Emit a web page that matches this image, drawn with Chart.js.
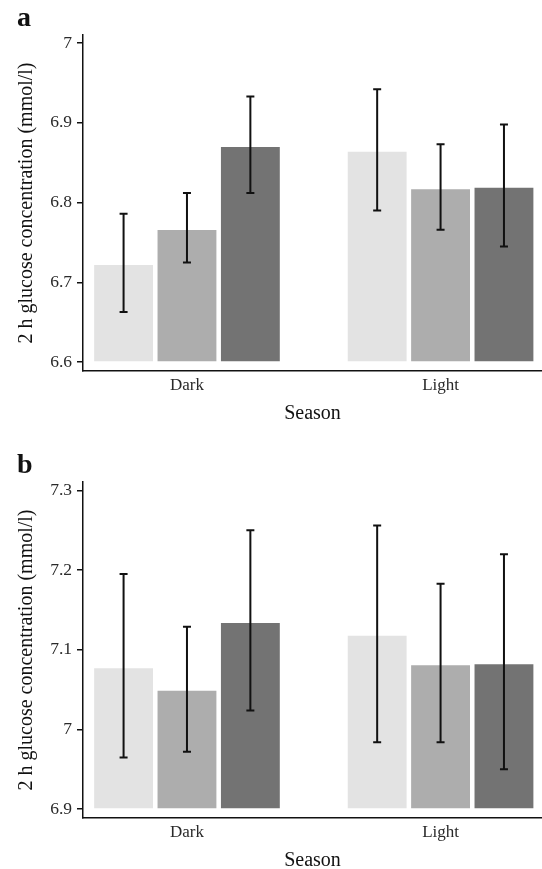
<!DOCTYPE html>
<html>
<head>
<meta charset="utf-8">
<script src="https://cdn.jsdelivr.net/npm/chart.js@4/dist/chart.umd.min.js"></script>
<style>
  body { margin: 0; background: #fff; }
  #wrap { position: relative; width: 542px; height: 869px; }
  canvas { position: absolute; left: 0; }
</style>
</head>
<body>
<div id="wrap">
  <canvas id="chartA" width="542" height="422" style="top:0px"></canvas>
  <canvas id="chartB" width="542" height="422" style="top:447px"></canvas>
</div>
<script>
// *** data ***
const GROUPS = ['Dark', 'Light'];
const FILLS = ['#e3e3e3', '#adadad', '#737373'];

// panel a : one row per fill shade, one value per season
const A_MEANS = [[6.723, 6.865], [6.767, 6.818], [6.871, 6.820]];
const A_UPPER = [[6.786, 6.942], [6.812, 6.873], [6.933, 6.898]];
const A_LOWER = [[6.663, 6.790], [6.725, 6.766], [6.812, 6.745]];
const A_TICKS = [6.6, 6.7, 6.8, 6.9, 7];

// panel b
const B_MEANS = [[7.078, 7.119], [7.050, 7.082], [7.135, 7.083]];
const B_UPPER = [[7.195, 7.256], [7.129, 7.183], [7.250, 7.220]];
const B_LOWER = [[6.965, 6.984], [6.972, 6.984], [7.024, 6.950]];
const B_TICKS = [6.9, 7, 7.1, 7.2, 7.3];

const FONT = 'Liberation Serif';

// *** error bars drawn on top of the bars ***
const errorBars = {
    id: 'errorBars',
    afterDatasetsDraw(chart, args, opts) {
        const ctx = chart.ctx;
        const y = chart.scales.y;
        ctx.save();
        ctx.strokeStyle = '#111';
        ctx.lineWidth = 2;
        chart.data.datasets.forEach(function (ds, d) {
            chart.getDatasetMeta(d).data.forEach(function (bar, i) {
                const top = y.getPixelForValue(opts.upper[d][i]);
                const bot = y.getPixelForValue(opts.lower[d][i]);
                ctx.beginPath();
                ctx.moveTo(bar.x, top); ctx.lineTo(bar.x, bot);
                ctx.moveTo(bar.x - 4, top); ctx.lineTo(bar.x + 4, top);
                ctx.moveTo(bar.x - 4, bot); ctx.lineTo(bar.x + 4, bot);
                ctx.stroke();
            });
        });
        ctx.restore();
    }
};

function makeChart(id, letter, means, upper, lower, ticks, yMin, yMax) {
    const datasets = means.map(function (vals, d) {
        return {
            data: vals.map(function (v, i) { return { x: i + 1, y: v }; }),
            backgroundColor: FILLS[d],
            borderColor: 'rgba(255,255,255,0.5)',
            borderWidth: 1,
            base: ticks[0],
            categoryPercentage: 0.75,
            barPercentage: 0.96
        };
    });
    return new Chart(document.getElementById(id).getContext('2d'), {
        type: 'bar',
        data: { datasets: datasets },
        options: {
            responsive: false,
            animation: false,
            devicePixelRatio: 1,
            layout: { padding: { left: 17, right: 0, top: 0, bottom: 0 } },
            plugins: {
                legend: { display: false },
                tooltip: { enabled: false },
                title: {
                    display: true, text: letter, align: 'start', color: '#111',
                    font: { family: FONT, size: 28, weight: 'bold', lineHeight: 1 },
                    padding: { top: 5, bottom: 2 }
                },
                errorBars: { upper: upper, lower: lower }
            },
            scales: {
                x: {
                    type: 'linear', offset: false, min: 0.59, max: 2.4,
                    afterBuildTicks(s) { s.ticks = GROUPS.map(function (g, i) { return { value: i + 1 }; }); },
                    afterFit(s) { s.height = 51; },
                    grid: { display: false, drawTicks: false },
                    border: { display: true, color: '#111', width: 1.5 },
                    ticks: {
                        padding: 4, color: '#2a2a2a', maxRotation: 0, autoSkip: false,
                        font: { family: FONT, size: 17 },
                        callback: function (v) { return GROUPS[v - 1]; }
                    },
                    title: {
                        display: true, text: 'Season', color: '#111',
                        font: { family: FONT, size: 20, lineHeight: '16px' },
                        padding: { top: 0, bottom: 0 }
                    }
                },
                y: {
                    min: yMin, max: yMax,
                    afterBuildTicks(s) { s.ticks = ticks.map(function (v) { return { value: v }; }); },
                    afterFit(s) { s.width = 66; },
                    grid: { drawOnChartArea: false, drawTicks: true, tickLength: 6, color: '#111', lineWidth: 1.5 },
                    border: { display: true, color: '#111', width: 1.5 },
                    ticks: {
                        padding: 5, color: '#2a2a2a',
                        font: { family: FONT, size: 17.5 },
                        callback: function (v) { return String(v); }
                    },
                    title: {
                        display: true, text: '2 h glucose concentration (mmol/l)', color: '#111',
                        font: { family: FONT, size: 20, lineHeight: 1.2 },
                        padding: { top: -2, bottom: 0 }
                    }
                }
            }
        },
        plugins: [errorBars]
    });
}

makeChart('chartA', 'a', A_MEANS, A_UPPER, A_LOWER, A_TICKS, 6.589, 7.01);
makeChart('chartB', 'b', B_MEANS, B_UPPER, B_LOWER, B_TICKS, 6.889, 7.3105);
</script>
</body>
</html>
